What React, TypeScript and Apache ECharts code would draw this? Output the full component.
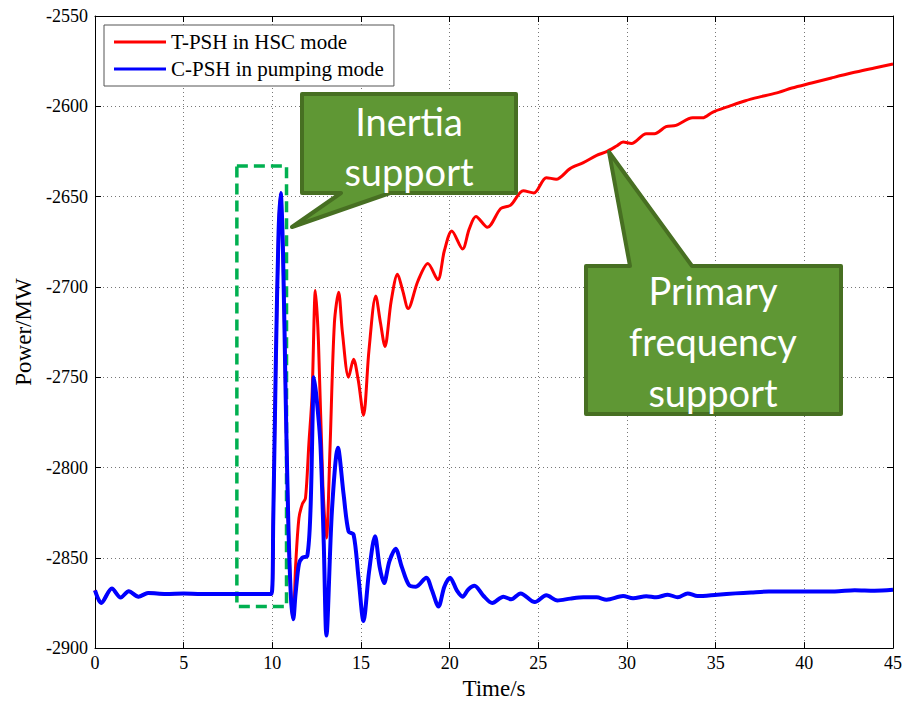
import React, { useEffect, useRef } from "react";
import * as echarts from "echarts";

// ---- data ----
const redName = "T-PSH in HSC mode";
const blueName = "C-PSH in pumping mode";

const xTicks = [0, 5, 10, 15, 20, 25, 30, 35, 40, 45];
const yTicks = [-2900, -2850, -2800, -2750, -2700, -2650, -2600, -2550];

// shared pre-disturbance + inertia spike (both curves coincide)
const tCommon = [0, 0.35, 0.95, 1.45, 1.9, 2.45, 3, 4, 5, 6, 7, 8, 9, 9.95, 10.05, 10.2, 10.35, 10.47, 10.6, 10.75, 10.9, 11.05, 11.18];
const pCommon = [-2868, -2875, -2867, -2872, -2868.5, -2871.5, -2869.5, -2870, -2869.8, -2870, -2870, -2870, -2870, -2870, -2830, -2740, -2670, -2648, -2680, -2760, -2830, -2872, -2884];

const tRed = [11.31, 11.5, 11.7, 11.87, 12.06, 12.24, 12.43, 12.6, 12.85, 13.05, 13.25, 13.5, 13.74, 13.95, 14.3, 14.58, 14.85, 15.14, 15.45, 15.83, 16.1, 16.35, 16.7, 17.06, 17.35, 17.66, 18.2, 18.77, 19.33, 19.7, 20.12, 20.73, 21.1, 21.48, 22.13, 22.88, 23.44, 24.15, 24.75, 25.45, 26.01, 26.79, 27.54, 28.29, 28.85, 29.41, 29.78, 30.25, 31.09, 31.55, 32.2, 32.76, 33.7, 34.26, 34.82, 35.75, 36.68, 37.62, 38.55, 39.3, 40.41, 41.53, 42.65, 43.95, 45];
const pRed = [-2855, -2828, -2820, -2817, -2787, -2760, -2702, -2730, -2810, -2839, -2790, -2720, -2703, -2725, -2750, -2740, -2752, -2771, -2735, -2705, -2720, -2733, -2708, -2693, -2702, -2712, -2697, -2687, -2696, -2680, -2669, -2679, -2668, -2661, -2667, -2656.6, -2654.7, -2646.8, -2648, -2639.5, -2640.4, -2634.5, -2631.2, -2627.2, -2625.1, -2622, -2619.8, -2620.6, -2615.2, -2615.2, -2611.3, -2610.6, -2606.4, -2606.4, -2603.3, -2600, -2596.9, -2594.5, -2592.3, -2589.9, -2587.1, -2584.3, -2581.6, -2578.8, -2576.6];

const tBlue = [11.31, 11.5, 11.69, 11.97, 12.15, 12.28, 12.34, 12.5, 12.71, 12.9, 13.05, 13.36, 13.7, 14.02, 14.3, 14.58, 14.86, 15.14, 15.45, 15.79, 16.05, 16.3, 16.6, 16.95, 17.3, 17.7, 18.1, 18.68, 19.0, 19.37, 19.7, 20.02, 20.4, 20.73, 21.05, 21.4, 21.9, 22.4, 23.03, 23.47, 24.0, 24.8, 25.45, 26.08, 26.8, 27.54, 28.29, 28.85, 29.78, 30.34, 31.09, 31.65, 32.3, 32.86, 33.42, 33.98, 35.1, 36.12, 37, 38, 39.85, 41.72, 42.84, 43.96, 45];
const pBlue = [-2870, -2853.5, -2850, -2849, -2824, -2769, -2750, -2762, -2787, -2842, -2893, -2824, -2789, -2815, -2835.5, -2837, -2861, -2885, -2858, -2838, -2855, -2864, -2852, -2845, -2855, -2865, -2866, -2861, -2868, -2877, -2866, -2861, -2868, -2871.5, -2867.5, -2865.5, -2871, -2875, -2871.5, -2873, -2869.7, -2874.5, -2870.8, -2873.6, -2872.6, -2871.9, -2871.9, -2873.2, -2871.2, -2872.4, -2871.3, -2871.9, -2870.4, -2871.9, -2869.7, -2871.2, -2870.4, -2869.7, -2869.2, -2868.7, -2868.6, -2868.6, -2867.9, -2868.2, -2867.7];

// dashed highlight box (data coordinates)
const boxX = [8, 10.8];
const boxY = [-2633, -2877];

const callout1Lines = ["Inertia", "support"];
const callout2Lines = ["Primary", "frequency", "support"];

function pairs(t: number[], p: number[]) {
  return t.map((x, i) => [x, p[i]]);
}

const serif = "'Liberation Serif', 'Times New Roman', serif";
const sans = "Lato, 'Open Sans', sans-serif";
const boxFill = "#5f9734";
const boxStroke = "#476f22";

export default function App() {
  const ref = useRef<HTMLDivElement>(null);
  useEffect(() => {
    if (!ref.current) return;
    const chart = echarts.init(ref.current, undefined, { renderer: "svg" });
    const redData = pairs(tCommon, pCommon).concat(pairs(tRed, pRed));
    const blueData = pairs(tCommon, pCommon).concat(pairs(tBlue, pBlue));

    const gridLine = { show: true, lineStyle: { color: "#777", type: [1, 3] as any, width: 1 } };
    const tick = { show: true, inside: true, length: 6, lineStyle: { color: "#000" } };
    const fmt = (v: number) => String(v);

    const option: any = {
      animation: false,
      backgroundColor: "#fff",
      grid: { left: 95, top: 16, right: 6, bottom: 54, containLabel: false, show: false },
      legend: {
        orient: "vertical",
        left: 104,
        top: 25,
        data: [redName, blueName],
        backgroundColor: "#fff",
        borderColor: "#555",
        borderWidth: 1,
        borderRadius: 0,
        padding: [6, 10, 6, 10],
        itemWidth: 52,
        itemHeight: 3,
        itemGap: 5,
        icon: "rect",
        textStyle: { fontFamily: serif, fontSize: 21, color: "#000", lineHeight: 22 },
        z: 10,
      },
      xAxis: [
        {
          type: "value",
          min: 0,
          max: 45,
          interval: 5,
          name: "Time/s",
          nameLocation: "middle",
          nameGap: 28,
          nameTextStyle: { fontFamily: serif, fontSize: 23, color: "#000" },
          axisLine: { show: true, onZero: false, lineStyle: { color: "#000", width: 1 } },
          axisTick: tick,
          axisLabel: { fontFamily: serif, fontSize: 18, color: "#000", margin: 6, formatter: fmt },
          splitLine: gridLine,
        },
        {
          type: "value",
          position: "top",
          min: 0,
          max: 45,
          interval: 5,
          axisLine: { show: true, onZero: false, lineStyle: { color: "#000", width: 1 } },
          axisTick: tick,
          axisLabel: { show: false },
          splitLine: { show: false },
        },
      ],
      yAxis: [
        {
          type: "value",
          min: -2900,
          max: -2550,
          interval: 50,
          name: "Power/MW",
          nameLocation: "middle",
          nameRotate: 90,
          nameGap: 54,
          nameTextStyle: { fontFamily: serif, fontSize: 23, color: "#000" },
          axisLine: { show: true, onZero: false, lineStyle: { color: "#000", width: 1 } },
          axisTick: tick,
          axisLabel: { fontFamily: serif, fontSize: 18, color: "#000", margin: 7, formatter: fmt },
          splitLine: gridLine,
        },
        {
          type: "value",
          position: "right",
          min: -2900,
          max: -2550,
          interval: 50,
          axisLine: { show: true, onZero: false, lineStyle: { color: "#000", width: 1 } },
          axisTick: tick,
          axisLabel: { show: false },
          splitLine: { show: false },
        },
      ],
      series: [
        {
          name: redName,
          type: "line",
          data: redData,
          showSymbol: false,
          symbol: "none",
          smooth: 0.3,
          color: "#ff0000",
          lineStyle: { color: "#ff0000", width: 3 },
          z: 2,
        },
        {
          name: blueName,
          type: "line",
          data: blueData,
          showSymbol: false,
          symbol: "none",
          smooth: 0.3,
          color: "#0000ff",
          lineStyle: { color: "#0000ff", width: 4 },
          z: 3,
        },
        {
          name: "box",
          type: "line",
          data: [],
          z: 4,
          markArea: {
            silent: true,
            itemStyle: {
              color: "rgba(0,0,0,0)",
              borderColor: "#00b050",
              borderWidth: 3.5,
              borderType: [11, 6],
            },
            data: [[{ coord: [boxX[0], boxY[0]] }, { coord: [boxX[1], boxY[1]] }]],
          },
        },
      ],
      graphic: [
        {
          type: "polygon",
          z: 20,
          shape: {
            points: [
              [302, 94], [516, 94], [516, 193], [390, 193], [292, 227], [341, 193], [302, 193],
            ],
          },
          style: { fill: boxFill, stroke: boxStroke, lineWidth: 4, lineJoin: "round" },
        },
        ...callout1Lines.map((s, i) => ({
          type: "text",
          z: 21,
          x: 409,
          y: 121 + i * 50,
          style: { text: s, fill: "#fff", fontSize: 38, fontFamily: sans, align: "center", verticalAlign: "middle" },
        })),
        {
          type: "polygon",
          z: 20,
          shape: {
            points: [
              [586, 266], [630, 266], [609, 152], [692, 266], [841, 266], [841, 414], [586, 414],
            ],
          },
          style: { fill: boxFill, stroke: boxStroke, lineWidth: 4, lineJoin: "round" },
        },
        ...callout2Lines.map((s, i) => ({
          type: "text",
          z: 21,
          x: 713,
          y: 290 + i * 51,
          style: { text: s, fill: "#fff", fontSize: 38, fontFamily: sans, align: "center", verticalAlign: "middle" },
        })),
      ],
    };
    chart.setOption(option);
    return () => chart.dispose();
  }, []);
  return (
    <div
      ref={ref}
      style={{ position: "fixed", left: 0, top: 0, width: 905, height: 705, background: "#fff" }}
    />
  );
}
